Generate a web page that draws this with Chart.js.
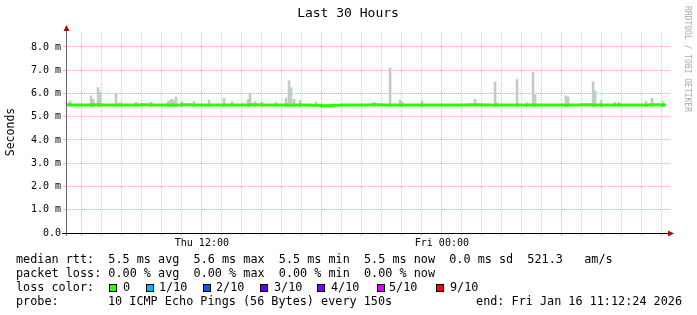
<!DOCTYPE html>
<html><head><meta charset="utf-8">
<script src="https://cdn.jsdelivr.net/npm/chart.js@4/dist/chart.umd.min.js"></script>
<style>html,body{margin:0;padding:0;background:#fff;overflow:hidden}#wrap{width:697px;height:315px;position:relative}</style>
</head><body><div id="wrap"><canvas id="c" width="697" height="315"></canvas></div>
<script>
// time axis in hours since Thu 00:00
const startHour = 5.2067;   // Thu Jan 15 05:12:24
const endHour = 35.2067;    // Fri Jan 16 11:12:24
const medianStep = 0.5;     // hours between median samples
const medianValues = [5.52,5.5,5.5,5.52,5.5,5.5,5.5,5.5,5.52,5.5, 5.5,5.5,5.52,5.5,5.5,5.5,5.5,5.5,5.5,5.52, 5.5,5.5,5.5,5.5,5.5,5.49,5.47,5.49,5.5,5.5, 5.5,5.52,5.5,5.5,5.5,5.5,5.5,5.5,5.5,5.5, 5.5,5.52,5.5,5.5,5.5,5.5,5.5,5.5,5.5,5.5, 5.5,5.5,5.52,5.5,5.5,5.5,5.5,5.5,5.5,5.52,5.5];
const smokeHours = [5.41,6.46,6.56,6.81,6.91,7.71,7.91,8.71,9.46,10.31,10.41,10.51,10.61,10.71,11.01,11.61,12.36,13.11,13.51,14.31,14.41,14.66,15.01,15.71,16.21,16.36,16.46,16.61,16.91,17.71,20.61,21.41,21.91,22.01,23.01,25.66,26.66,26.76,27.76,28.26,28.56,28.66,30.21,30.31,31.56,31.66,31.96,32.66,32.86,34.21,34.51,35.06];
const smokeLow  = [5.42,5.43,5.42,5.42,5.43,5.42,5.44,5.42,5.43,5.42,5.43,5.42,5.44,5.42,5.43,5.42,5.43,5.42,5.44,5.42,5.43,5.42,5.43,5.44,5.42,5.43,5.42,5.43,5.42,5.44,5.42,5.43,5.42,5.43,5.42,5.43,5.42,5.44,5.42,5.43,5.42,5.43,5.42,5.43,5.42,5.43,5.42,5.44,5.42,5.43,5.42,5.43];
const smokeHigh = [5.68,5.9,5.75,6.25,6.05,6.0,5.6,5.62,5.63,5.65,5.72,5.75,5.7,5.85,5.65,5.65,5.72,5.8,5.65,5.75,6.0,5.65,5.62,5.62,5.8,6.55,6.25,5.75,5.7,5.62,5.62,7.1,5.72,5.65,5.68,5.75,6.5,5.6,6.6,5.6,6.9,5.95,5.9,5.85,6.5,6.1,5.7,5.62,5.62,5.65,5.8,5.65];
const hourTicks = [6,7,8,9,10,11,12,13,14,15,16,17,18,19,20,21,22,23,24,25,26,27,28,29,30,31,32,33,34,35];
const labelHours = [12, 24];
const tickLabels = ['Thu 12:00', 'Fri 00:00'];
const yTicks = [0,0.5,1,1.5,2,2.5,3,3.5,4,4.5,5,5.5,6,6.5,7,7.5,8,8.5];
const lossLabels = ['0','1/10','2/10','3/10','4/10','5/10','9/10'];
const lossColors = ['#26ff00','#00b8ff','#0059ff','#5e00ff','#7e00ff','#dd00ff','#ff0000'];

const MONO = '"DejaVu Sans Mono", monospace';
const RED_GRID = 'rgba(220,110,110,0.55)';
const GREY_GRID = '#cccccc';

const medianData = medianValues.map((v, i) => ({x: startHour + i * medianStep, y: v}));
const smokeData = smokeHours.map((h, i) => ({x: h, y: [smokeLow[i], smokeHigh[i]]}));

const deco = {
  id: 'deco',
  beforeDraw(chart) {
    const ctx = chart.ctx;
    ctx.save(); ctx.fillStyle = '#fff'; ctx.fillRect(0, 0, chart.width, chart.height); ctx.restore();
  },
  afterDraw(chart) {
    const ctx = chart.ctx;
    const a = chart.chartArea;
    ctx.save();
    ctx.fillStyle = '#000';
    ctx.font = '13px ' + MONO;
    ctx.textAlign = 'center'; ctx.textBaseline = 'middle';
    ctx.fillText('Last 30 Hours', 348, 14);
    ctx.save();
    ctx.translate(11, 132); ctx.rotate(-Math.PI / 2);
    ctx.font = '11.5px ' + MONO;
    ctx.fillText('Seconds', 0, 0);
    ctx.restore();
    ctx.save();
    ctx.translate(687, 59); ctx.rotate(Math.PI / 2);
    ctx.font = '8px ' + MONO; ctx.fillStyle = '#aaaaaa';
    ctx.fillText('RRDTOOL / TOBI OETIKER', 0, 0);
    ctx.restore();
    // axes
    ctx.strokeStyle = '#666'; ctx.lineWidth = 1;
    ctx.beginPath(); ctx.moveTo(a.left + 0.5, a.bottom + 3); ctx.lineTo(a.left + 0.5, 30); ctx.stroke();
    ctx.strokeStyle = '#000';
    ctx.beginPath(); ctx.moveTo(62, a.bottom + 0.5); ctx.lineTo(669, a.bottom + 0.5); ctx.stroke();
    ctx.fillStyle = '#a01010';
    ctx.beginPath(); ctx.moveTo(a.left + 0.5, 25); ctx.lineTo(a.left - 2.5, 31); ctx.lineTo(a.left + 3.5, 31); ctx.closePath(); ctx.fill();
    ctx.beginPath(); ctx.moveTo(674, a.bottom + 0.5); ctx.lineTo(668, a.bottom - 2.5); ctx.lineTo(668, a.bottom + 3.5); ctx.closePath(); ctx.fill();
    // legend
    ctx.fillStyle = '#000';
    ctx.font = '11.8px ' + MONO;
    ctx.textAlign = 'left'; ctx.textBaseline = 'middle';
    ctx.fillText('median rtt:  5.5 ms avg  5.6 ms max  5.5 ms min  5.5 ms now  0.0 ms sd  521.3   am/s', 16, 260);
    ctx.fillText('packet loss: 0.00 % avg  0.00 % max  0.00 % min  0.00 % now', 16, 274);
    ctx.fillText('loss color:', 16, 288);
    const boxX = [109, 146, 203, 260, 317, 377, 436];
    const txtX = [123, 159, 216, 274, 331, 389, 450];
    for (let i = 0; i < lossLabels.length; i++) {
      ctx.fillStyle = lossColors[i];
      ctx.fillRect(boxX[i], 284, 8, 8);
      ctx.strokeStyle = '#000'; ctx.lineWidth = 1;
      ctx.strokeRect(boxX[i] + 0.5, 284.5, 7, 7);
      ctx.fillStyle = '#000';
      ctx.fillText(lossLabels[i], txtX[i], 288);
    }
    ctx.fillText('probe:', 16, 302);
    ctx.fillText('10 ICMP Echo Pings (56 Bytes) every 150s', 108, 302);
    ctx.textAlign = 'right';
    ctx.fillText('end: Fri Jan 16 11:12:24 2026', 682, 302);
    ctx.restore();
  }
};

new Chart(document.getElementById('c'), {
  type: 'bar',
  data: {
    datasets: [
      { type: 'line', data: medianData, borderColor: '#26ff00', borderWidth: 3, pointRadius: 0, stepped: 'middle', order: 0, fill: false },
      { type: 'bar', data: smokeData, backgroundColor: '#c8c8c8', borderWidth: 0, barThickness: 2, grouped: false, order: 1 }
    ]
  },
  options: {
    responsive: false, animation: false, devicePixelRatio: 1,
    layout: { padding: { top: 33, right: 28, left: 0, bottom: 0 } },
    plugins: { legend: { display: false }, tooltip: { enabled: false }, title: { display: false } },
    scales: {
      x: {
        type: 'linear', min: startHour, max: startHour + 30.15, offset: false,
        afterBuildTicks: s => { s.ticks = hourTicks.map(v => ({value: v})); },
        afterFit: s => { s.height = 82; },
        grid: { offset: false, color: c => (c.tick && c.tick.value % 6 === 0) ? RED_GRID : GREY_GRID, lineWidth: 1, drawTicks: true, tickLength: 3 },
        border: { display: false, dash: [1, 1] },
        ticks: { autoSkip: false, maxRotation: 0, padding: 1, color: '#000', font: { family: MONO, size: 10 },
          callback: v => { const i = labelHours.indexOf(v); return i >= 0 ? tickLabels[i] : ''; } }
      },
      y: {
        min: 0, max: 8.6,
        afterBuildTicks: s => { s.ticks = yTicks.map(v => ({value: v})); },
        afterFit: s => { s.width = 66; },
        grid: { color: c => { const v = c.tick ? c.tick.value : 0; return v === 0 ? 'rgba(0,0,0,0)' : (Number.isInteger(v) ? RED_GRID : GREY_GRID); }, lineWidth: 1, drawTicks: true, tickLength: 3 },
        border: { display: false, dash: [1, 1] },
        ticks: { padding: 2, color: '#000', font: { family: MONO, size: 10 },
          callback: v => v === 0 ? '0.0' : (Number.isInteger(v) ? v.toFixed(1) + ' m' : '') }
      }
    }
  },
  plugins: [deco]
});
</script></body></html>
